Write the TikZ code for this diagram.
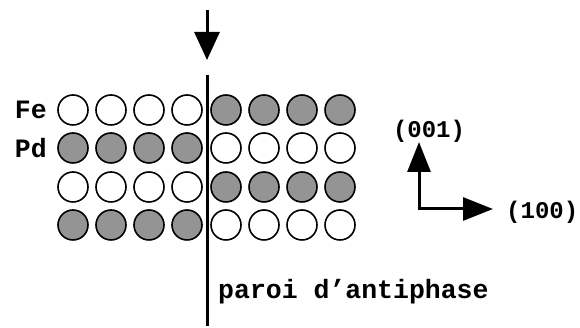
\documentclass[tikz,border=0pt]{standalone}
\usepackage{fontspec}
\setmainfont{Liberation Mono}
\usetikzlibrary{arrows.meta}
\definecolor{hatch}{RGB}{148,148,148}
\tikzset{
  x=1pt,y=1pt,
  atom/.style={circle,draw=black,line width=1.6pt,minimum size=30pt,inner sep=0pt},
  fe/.style={atom,fill=white},
  pd/.style={atom,fill=hatch},
  lbl/.style={font=\fontsize{24}{28}\selectfont\bfseries,inner sep=0pt},
  biglbl/.style={font=\fontsize{26.5}{30}\selectfont\bfseries,inner sep=0pt},
  bigarrow/.style={line width=3pt,-{Triangle[length=28pt,width=25pt]}},
  axarrow/.style={line width=3pt,-{Triangle[length=30pt,width=23pt]}}
}
\begin{document}
\begin{tikzpicture}
\useasboundingbox (0,0) rectangle (580,328);
% atoms
\foreach \x [count=\i] in {73,111,149,187}{
  \node[fe] (a1l\i) at (\x,218) {};
  \node[pd] (a2l\i) at (\x,180) {};
  \node[fe] (a3l\i) at (\x,141) {};
  \node[pd] (a4l\i) at (\x,103) {};
}
\foreach \x [count=\i] in {226,264,302,340}{
  \node[pd] (a1r\i) at (\x,218) {};
  \node[fe] (a2r\i) at (\x,180) {};
  \node[pd] (a3r\i) at (\x,141) {};
  \node[fe] (a4r\i) at (\x,103) {};
}
% antiphase boundary
\coordinate (wtop) at (207,253);
\coordinate (wbot) at (207,2);
\draw[line width=3pt] (wtop) -- (wbot);
\coordinate (arrs) at (207,318);
\coordinate (arre) at (207,268);
\draw[bigarrow] (arrs) -- (arre);
% labels
\node[biglbl,anchor=east] (fe) at (47,218) {Fe};
\node[biglbl,anchor=east] (pd) at (47,180) {Pd};
\node[biglbl,anchor=west] (paroi) at (218,36) {paroi d’antiphase};
% axes
\coordinate (o) at (419,119);
\coordinate (zt) at (419,186);
\coordinate (xt) at (493,119);
\draw[axarrow] ([yshift=-1.5pt]o) -- (zt);
\draw[axarrow] ([xshift=-1.5pt]o) -- (xt);
\node[lbl] (z) at (429,197) {(001)};
\node[lbl,anchor=west] (xl) at (506,116) {(100)};
\end{tikzpicture}
\end{document}
